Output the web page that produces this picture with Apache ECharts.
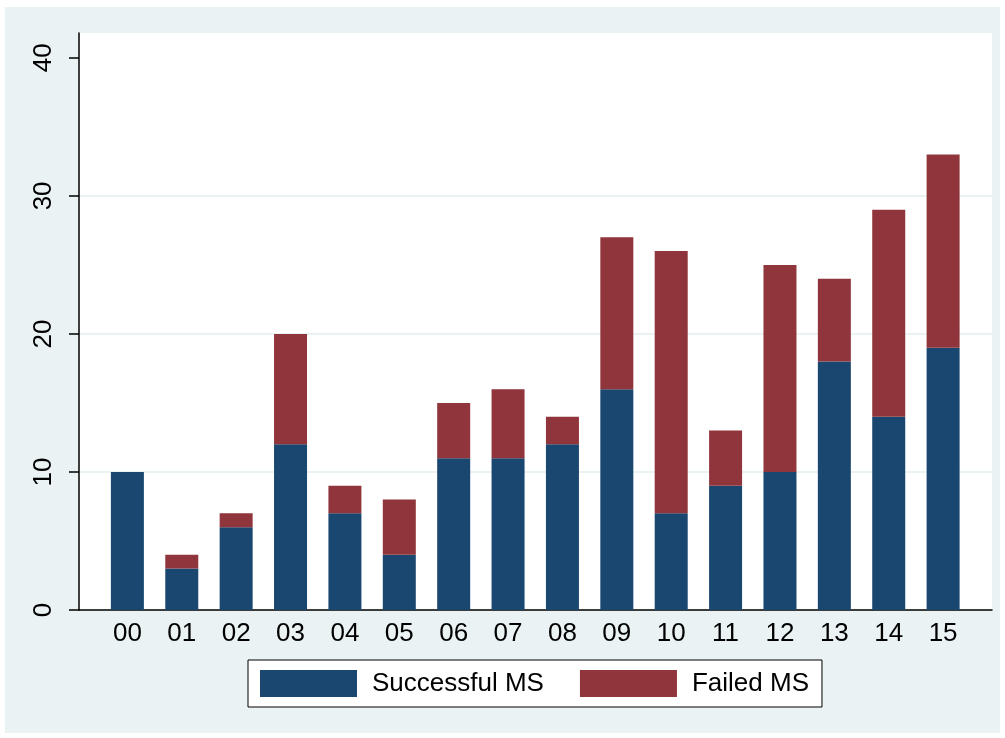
<!DOCTYPE html>
<html>
<head>
<meta charset="utf-8">
<script src="https://cdn.jsdelivr.net/npm/echarts@6/dist/echarts.min.js"></script>
<style>
  html, body { margin: 0; padding: 0; background: #fff; }
  #chart { width: 1005px; height: 738px; }
</style>
</head>
<body>
<div id="chart"></div>
<script>
// 数据
const categories = ['00', '01', '02', '03', '04', '05', '06', '07', '08', '09', '10', '11', '12', '13', '14', '15'];
const successful = [10, 3, 6, 12, 7, 4, 11, 11, 12, 16, 7, 9, 10, 18, 14, 19];
const failed = [0, 1, 1, 8, 2, 4, 4, 5, 2, 11, 19, 4, 15, 6, 15, 14];
const yTicks = [0, 10, 20, 30, 40];

const chart = echarts.init(document.getElementById('chart'));

const option = {
    animation: false,
    backgroundColor: '#fff',
    textStyle: { fontFamily: 'Liberation Sans, Arial, sans-serif' },
    graphic: [{
        type: 'rect',
        z: -10,
        silent: true,
        shape: { x: 5, y: 7, width: 995, height: 726 },
        style: { fill: '#EAF2F3' }
    }],
    grid: [
        // 外框：坐标轴和网格线
        { left: 79, right: 13, top: 33, bottom: 128, show: true, backgroundColor: '#fff', borderWidth: 0 },
        // 柱子所在的分类轴，两端留白
        { left: 100.2, right: 34.7, top: 33, bottom: 128 }
    ],
    legend: {
        left: 248,
        top: 660,
        itemWidth: 97,
        itemHeight: 27,
        itemGap: 36,
        padding: [10, 13, 10, 12],
        backgroundColor: '#fff',
        borderColor: '#000',
        borderWidth: 1,
        borderRadius: 0,
        icon: 'rect',
        textStyle: { fontSize: 26, color: '#000', padding: [0, 0, 0, 10] },
        data: ['Successful MS', 'Failed MS']
    },
    xAxis: [
        {
            type: 'value',
            gridIndex: 0,
            min: 0,
            max: 1,
            axisLine: { show: true, lineStyle: { color: '#000', width: 1.5 } },
            axisTick: { show: false },
            splitLine: { show: false },
            axisLabel: { show: false }
        },
        {
            type: 'category',
            gridIndex: 1,
            data: categories,
            axisLine: { show: false },
            axisTick: { show: false },
            axisLabel: { fontSize: 26, color: '#000', margin: 11 }
        }
    ],
    yAxis: [
        {
            type: 'value',
            gridIndex: 0,
            min: 0,
            max: 41.8,
            interval: 10,
            axisLine: { show: true, onZero: false, lineStyle: { color: '#000', width: 1.5 } },
            axisTick: { show: true, length: 10, customValues: yTicks, lineStyle: { color: '#000', width: 1.5 } },
            splitLine: { show: true, showMinLine: false, showMaxLine: false, lineStyle: { color: '#EAF2F3', width: 2 } },
            axisLabel: {
                customValues: yTicks,
                fontSize: 26,
                color: '#000',
                rotate: 90,
                margin: 22
            }
        },
        {
            type: 'value',
            gridIndex: 1,
            min: 0,
            max: 41.8,
            show: false
        }
    ],
    series: [
        {
            name: 'Successful MS',
            type: 'bar',
            stack: 'ms',
            xAxisIndex: 1,
            yAxisIndex: 1,
            barWidth: 33,
            itemStyle: { color: '#1A476F' },
            data: successful
        },
        {
            name: 'Failed MS',
            type: 'bar',
            stack: 'ms',
            xAxisIndex: 1,
            yAxisIndex: 1,
            barWidth: 33,
            itemStyle: { color: '#90353B' },
            data: failed
        }
    ]
};

chart.setOption(option);
</script>
</body>
</html>
